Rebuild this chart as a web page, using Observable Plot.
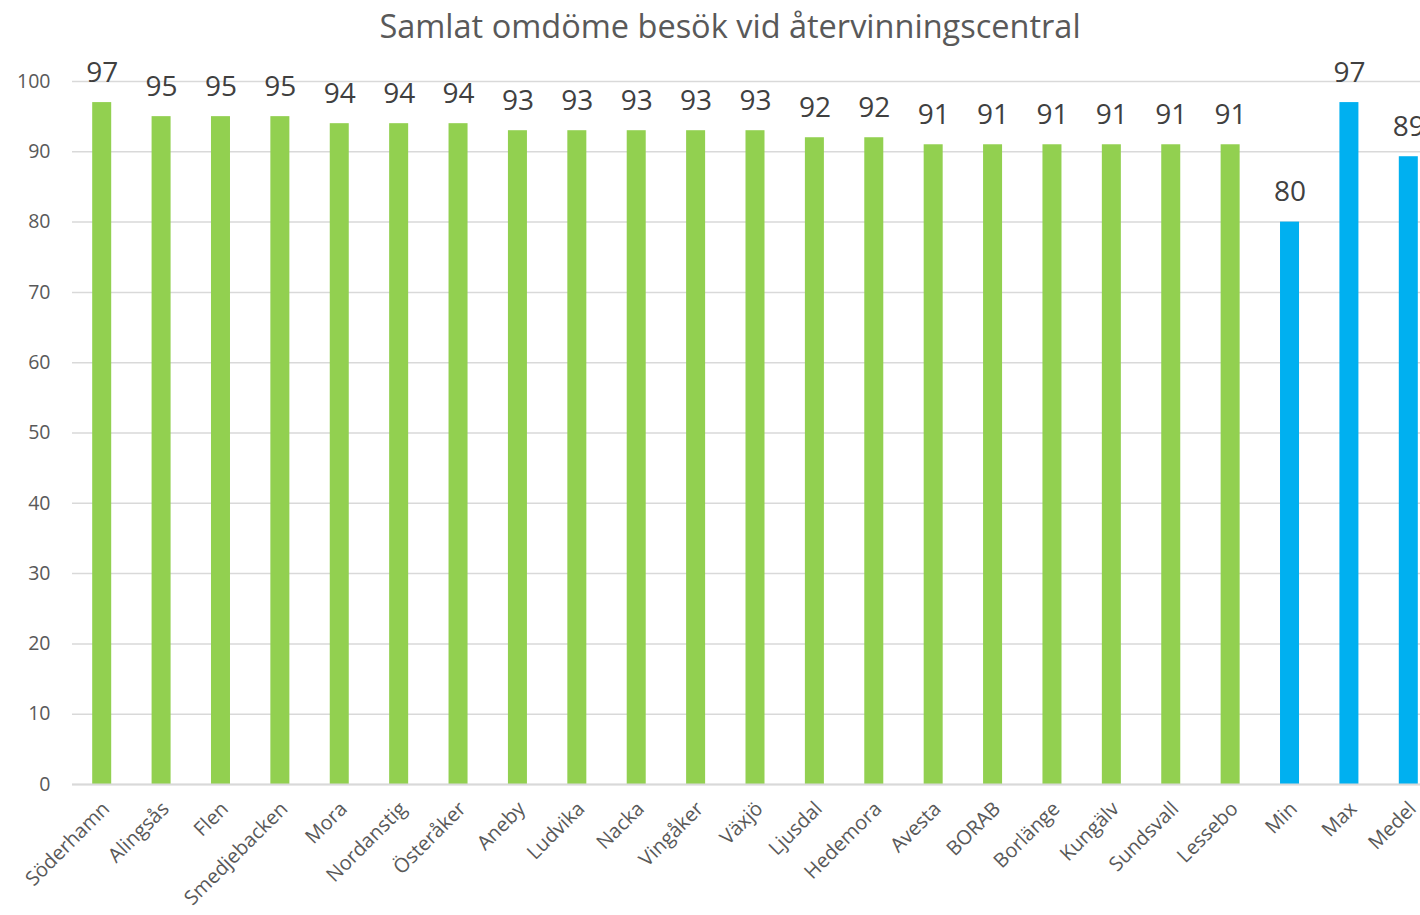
<!DOCTYPE html>
<html>
<head>
<meta charset="utf-8">
<script src="https://cdn.jsdelivr.net/npm/d3@7"></script>
<script src="https://cdn.jsdelivr.net/npm/@observablehq/plot@0.6"></script>
<style>
  html, body { margin: 0; padding: 0; background: #fff; overflow: hidden; width: 1420px; height: 915px; }
  #title { position: absolute; left: 0; top: 0; width: 1460px; height: 52px; line-height: 52px; text-align: center;
    font-family: "Open Sans", sans-serif; font-size: 32.5px; color: #595959; }
  #chart { position: absolute; left: 0; top: 52px; width: 1440px; }
  #chart svg { max-width: none !important; }
</style>
</head>
<body>
<div id="title">Samlat omdöme besök vid återvinningscentral</div>
<div id="chart"></div>
<script>
const categories = ["Söderhamn","Alingsås","Flen","Smedjebacken","Mora","Nordanstig","Österåker","Aneby","Ludvika","Nacka","Vingåker","Växjö","Ljusdal","Hedemora","Avesta","BORAB","Borlänge","Kungälv","Sundsvall","Lessebo","Min","Max","Medel"];
const values = [97,95,95,95,94,94,94,93,93,93,93,93,92,92,91,91,91,91,91,91,80,97,89.3];
const groups = ["unit","unit","unit","unit","unit","unit","unit","unit","unit","unit","unit","unit","unit","unit","unit","unit","unit","unit","unit","unit","summary","summary","summary"];
const yTicks = [0,10,20,30,40,50,60,70,80,90,100];

const data = categories.map((c, i) => ({category: c, value: values[i], group: groups[i]}));

const chart = Plot.plot({
  width: 1440,
  height: 863,
  marginTop: 29,
  marginBottom: 131,
  marginLeft: 72,
  marginRight: 2,
  style: {fontFamily: "Open Sans, sans-serif", color: "#595959", background: "#fff", maxWidth: "none"},
  x: {domain: categories, paddingInner: 0.68, paddingOuter: 0.34, round: false, label: null},
  y: {domain: [0, 100], label: null},
  color: {domain: ["unit", "summary"], range: ["#92D050", "#00B0F0"]},
  marks: [
    Plot.gridY(yTicks, {stroke: "#d9d9d9", strokeOpacity: 1, strokeWidth: 1.5}),
    Plot.axisY({ticks: yTicks, tickSize: 0, tickPadding: 22, fontSize: 19.5, label: null}),
    Plot.axisX({tickSize: 0, tickPadding: 21, dx: 4, tickRotate: -45, fontSize: 20, label: null}),
    Plot.barY(data, {x: "category", y: "value", fill: "group"}),
    Plot.ruleY([0], {stroke: "#d9d9d9", strokeWidth: 2}),
    Plot.text(data, {x: "category", y: "value", text: d => Math.round(d.value), dy: -30, fontSize: 28, fill: "#404040"})
  ]
});
document.getElementById("chart").appendChild(chart);
</script>
</body>
</html>
